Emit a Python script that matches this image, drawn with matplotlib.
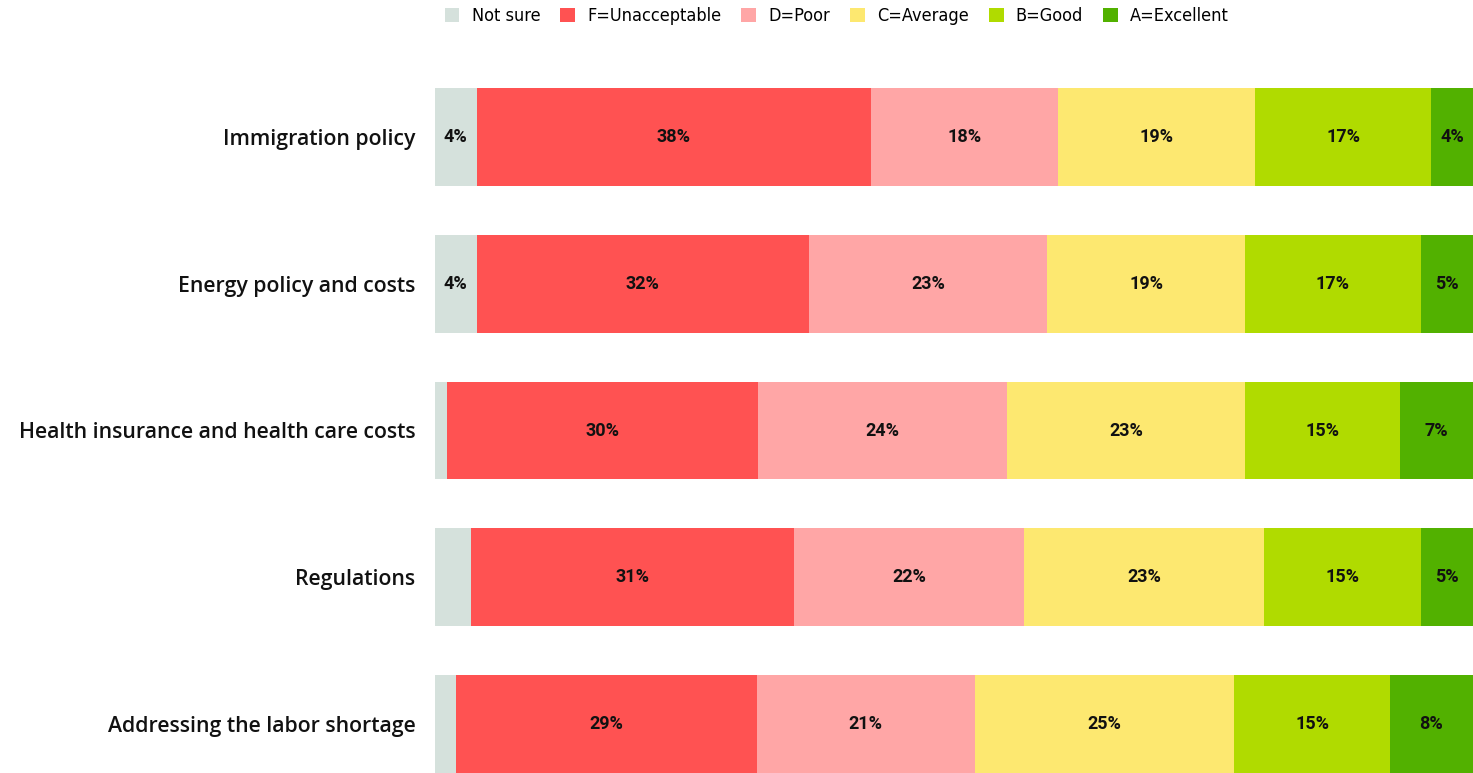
import matplotlib.pyplot as plt
import numpy as np
from matplotlib.patches import Patch

categories = ['Immigration policy', 'Energy policy and costs',
              'Health insurance and health care costs', 'Regulations',
              'Addressing the labor shortage']
grades = ['Not sure', 'F=Unacceptable', 'D=Poor', 'C=Average', 'B=Good', 'A=Excellent']
not_sure = [4, 4, 1.2, 3.4, 2]
grade_f = [38, 32, 30, 31, 29]
grade_d = [18, 23, 24, 22, 21]
grade_c = [19, 19, 23, 23, 25]
grade_b = [17, 17, 15, 15, 15]
grade_a = [4, 5, 7, 5, 8]
colors = ['#d5e1dc', '#ff5252', '#ffa6a6', '#fde870', '#b0db00', '#52b100']

vals = np.array([not_sure, grade_f, grade_d, grade_c, grade_b, grade_a], dtype=float)
share = vals / vals.sum(axis=0) * 100

fig = plt.figure(figsize=(14.73, 7.73), dpi=100)
ax = fig.add_axes([435 / 1473, 0, 1 - 435 / 1473, 1 - 88 / 773])
y = np.arange(len(categories))
left = np.zeros(len(categories))
for i, g in enumerate(grades):
    ax.barh(y, share[i], left=left, height=0.667, color=colors[i], label=g)
    for j in range(len(categories)):
        if vals[i, j] >= 3.5:
            ax.text(left[j] + share[i, j] / 2, y[j], '%d%%' % round(vals[i, j]),
                    ha='center', va='center', fontsize=13, fontweight='bold',
                    family='Roboto', color='#111111')
    left += share[i]

ax.set_xlim(0, 100)
ax.set_ylim(len(categories) - 1 + 0.3335, -0.3335)
ax.set_yticks(y)
ax.set_yticklabels(categories, fontsize=15.3, family='Open Sans', fontweight='semibold', color='#111111')
ax.tick_params(axis='y', length=0, pad=14)
ax.set_xticks([])
for s in ax.spines.values():
    s.set_visible(False)

handles = [Patch(facecolor=c, edgecolor='none') for c in colors]
fig.legend(handles, grades, loc='center', bbox_to_anchor=(0.568, 0.979), ncol=6,
           frameon=False, handlelength=0.83, handleheight=0.83, handletextpad=0.67,
           columnspacing=1.1,
           prop={'family': 'DejaVu Sans', 'stretch': 'condensed', 'size': 13})

fig.savefig('out.png', dpi=100)
